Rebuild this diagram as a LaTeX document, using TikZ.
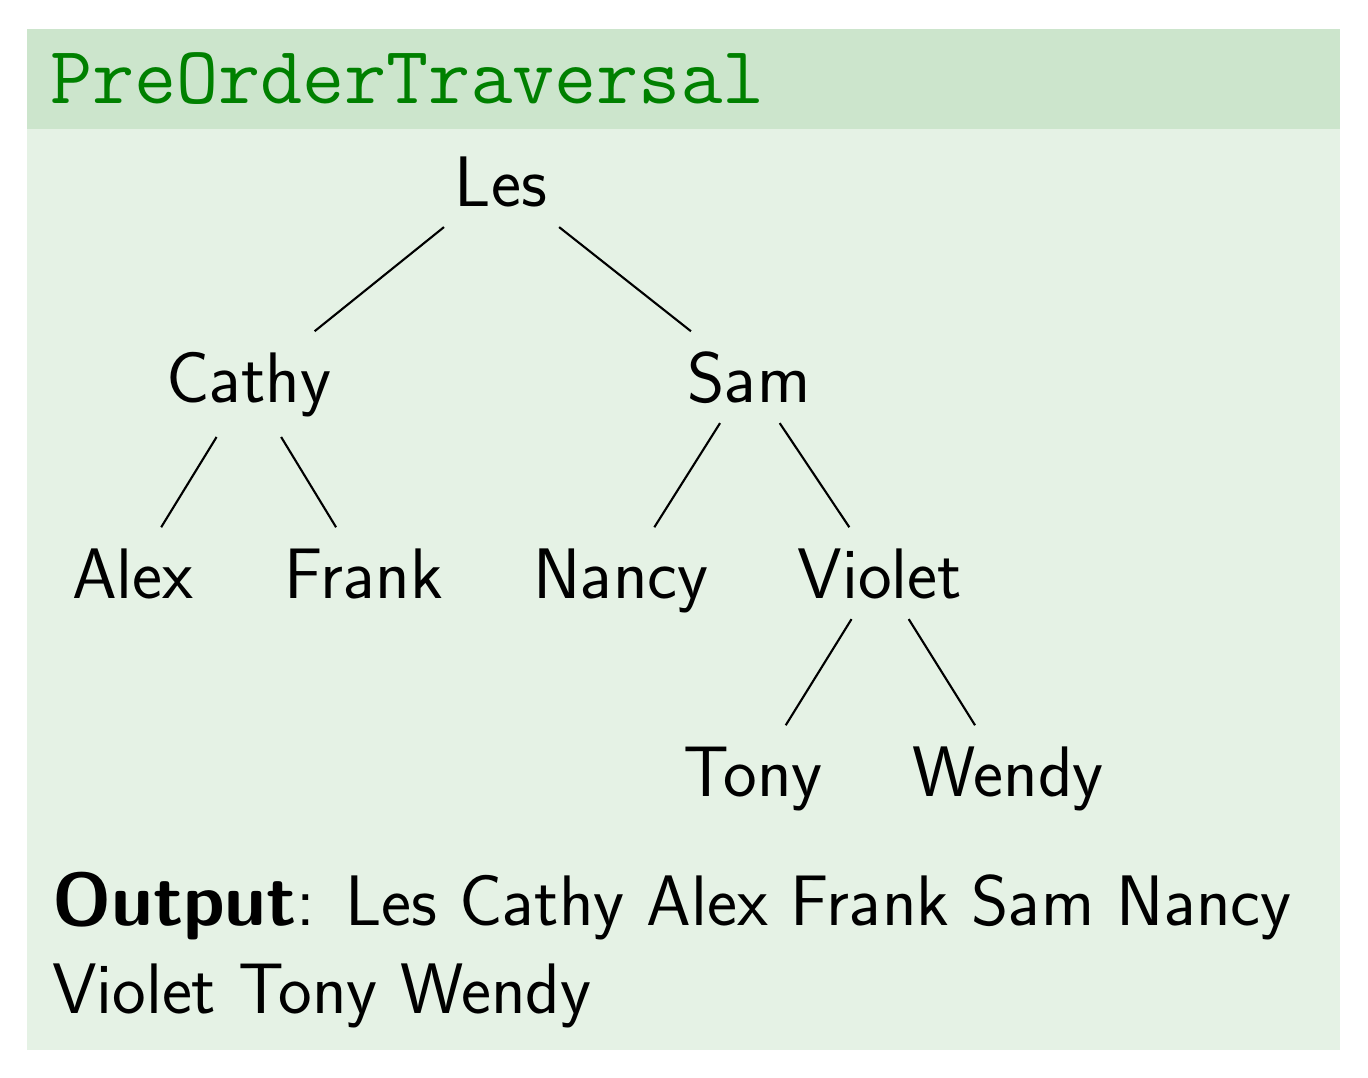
\documentclass[tikz,border=0pt]{standalone}
\usepackage{tikz}
\usepackage{xcolor}

\font\nodefont=cmss17 at 40.7pt
\font\outbold=cmssbx10 at 42.4pt
\font\titlefont=cmtt12 at 46.5pt
\definecolor{blockgreen}{RGB}{0,128,0}
\colorlet{blocktitlebg}{blockgreen!20}
\colorlet{blockbodybg}{blockgreen!10}

\begin{document}
\begin{tikzpicture}[person/.style={anchor=base, font=\nodefont, inner sep=12pt, outer sep=0pt}, line width=1.2pt]
            \useasboundingbox (0,0) rectangle (27.36,-21.56);
            \fill[blockbodybg] (0.54,-2.58) rectangle (26.8,-21.0);
            \fill[blocktitlebg] (0.54,-0.58) rectangle (26.8,-2.58);
            \node[anchor=base west, inner sep=0pt, text=blockgreen, font=\titlefont] (title) at (0.98,-2.06) {PreOrderTraversal};
            \node[person] (les) at (10.02,-4.12) {Les};
            \node[person] (cathy) at (4.98,-8.04) {Cathy};
            \node[person] (sam) at (14.98,-8.04) {Sam};
            \node[person] (alex) at (2.66,-11.96) {Alex};
            \node[person] (frank) at (7.28,-11.96) {Frank};
            \node[person] (nancy) at (12.42,-11.96) {Nancy};
            \node[person] (violet) at (17.6,-11.96) {Violet};
            \node[person] (tony) at (15.06,-15.92) {Tony};
            \node[person] (wendy) at (20.16,-15.92) {Wendy};
            \draw (les) -- (cathy);
            \draw (les) -- (sam);
            \draw (cathy) -- (alex);
            \draw (cathy) -- (frank);
            \draw (sam) -- (nancy);
            \draw (sam) -- (violet);
            \draw (violet) -- (tony);
            \draw (violet) -- (wendy);
            \node[anchor=base west, inner sep=0pt, font=\nodefont] (output) at (1.02,-18.5) {{\outbold Output}: Les Cathy Alex Frank Sam Nancy};
            \node[anchor=base west, inner sep=0pt, font=\nodefont] (outputrest) at (1.02,-20.26) {Violet Tony Wendy};
        \end{tikzpicture}
\end{document}
